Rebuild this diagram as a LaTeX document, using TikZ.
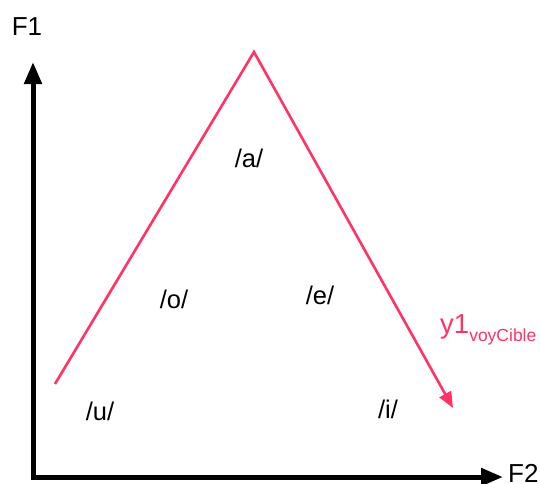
\documentclass[tikz,border=0pt]{standalone}
\usepackage{fontspec}
\setmainfont{Liberation Sans}
\usetikzlibrary{arrows.meta}
\definecolor{vpink}{HTML}{FF3366}
\tikzset{
  axis/.style={line width=5pt, -{Triangle[length=22pt,width=17pt]}},
  formant/.style={vpink, line width=2.6pt},
  vowel/.style={font=\fontsize{25.5}{25.5}\selectfont, inner sep=0pt},
  axlabel/.style={font=\fontsize{26}{26}\selectfont, inner sep=0pt}
}
\begin{document}
\begin{tikzpicture}[x=1pt,y=-1pt]
\useasboundingbox (0,0) rectangle (540,483);
\coordinate (corner) at (33,477);
\coordinate (ytip) at (33,62);
\coordinate (xtip) at (503,477);
\draw[axis] ([yshift=2.5pt]corner) -- (ytip);
\draw[axis] ([xshift=-2.5pt]corner) -- (xtip);
\node[axlabel] (F1) at (27,27) {F1};
\node[axlabel, anchor=west] (F2) at (508,473) {F2};
\coordinate (start) at (55,384);
\coordinate (apex) at (254,52);
\coordinate (tip) at (453,408);
\draw[formant, line join=miter, -{Triangle[length=16pt,width=13pt]}] (start) -- (apex) -- (tip);
\node[vowel] (a) at (249,158) {/a/};
\node[vowel] (o) at (174,299) {/o/};
\node[vowel] (e) at (320,295) {/e/};
\node[vowel] (u) at (100,411) {/u/};
\node[vowel] (i) at (388,409) {/i/};
\node[anchor=base west, inner sep=0pt, text=vpink, font=\fontsize{27.5}{27.5}\selectfont] (y1) at (440,333) {y1\raisebox{-8pt}{\fontsize{17.5}{17.5}\selectfont voyCible}};
\end{tikzpicture}
\end{document}
